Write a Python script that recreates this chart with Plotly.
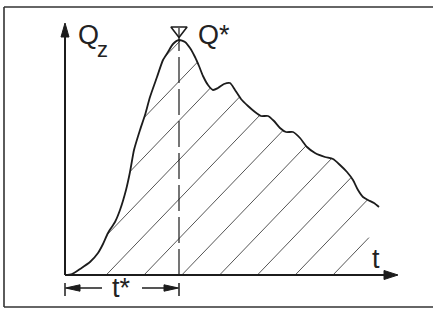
import numpy as np
import plotly.graph_objects as go

# ---- data (hydrograph sketch) ----
t_vals = [0.0, 0.7, 1.5, 2.5, 3.3, 3.8, 4.3, 5.0, 5.5, 6.1, 6.5, 6.9, 7.5, 8.0, 8.5, 9.2,
          9.8, 10.3, 10.8, 11.4, 12.0, 12.5, 13.0, 13.4, 13.8, 14.3, 14.8, 15.3, 15.9,
          16.5, 17.0, 17.6, 18.3, 19.0, 19.6, 20.3, 20.9, 21.5, 22.1, 22.8, 23.5, 24.2,
          25.0, 26.0, 26.8, 27.5, 28.2, 28.8, 29.3, 29.8, 30.3, 30.9, 31.4]
q_vals = [0.0, 0.1, 0.6, 1.3, 2.2, 3.1, 4.2, 5.3, 6.5, 8.5, 10.3, 12.5, 14.5, 16.0, 17.8, 19.8,
          21.5, 22.3, 23.1, 23.5, 23.3, 22.7, 21.8, 20.9, 19.9, 19.0, 18.5, 18.7, 19.1,
          19.2, 18.5, 17.6, 16.9, 16.3, 15.9, 15.9, 15.4, 14.7, 14.3, 14.3, 13.7, 12.8,
          12.2, 11.8, 11.6, 11.0, 10.3, 9.5, 8.5, 7.8, 7.5, 7.2, 6.8]
hatch_offsets = [-11.0 + 3.78 * k for k in range(11)]   # t-intercepts of hatch lines
hatch_slope = 1.04
hatch_tmax = 30.4
labels = {"q": "Q", "qsub": "z", "qstar": "Q*", "t": "t", "tstar": "t*"}

t_arr = np.array(t_vals)
q_arr = np.array(q_vals)
t_peak = float(t_arr[np.argmax(q_arr)])

# ---- pixel mapping helpers (x_px = 65 + 10 t, y_px = 275 - 10 Q) ----
W, H = 433, 309
X0, Y0, S = 65.0, 275.0, 10.0
xr = [(0 - X0) / S, (W - X0) / S]
yr = [(Y0 - H) / S, Y0 / S]

# ---- hatch segments by clipping against curve ----
tt = np.linspace(0, t_arr[-1], 6000)
qq = np.interp(tt, t_arr, q_arr)
hx, hy = [], []
for c in hatch_offsets:
    ql = hatch_slope * (tt - c)
    inside = (ql >= 0) & (ql <= qq) & (tt <= hatch_tmax)
    idx = np.where(inside)[0]
    if idx.size == 0:
        continue
    breaks = np.where(np.diff(idx) > 1)[0]
    starts = np.concatenate([[idx[0]], idx[breaks + 1]])
    ends = np.concatenate([idx[breaks], [idx[-1]]])
    for s, e in zip(starts, ends):
        if e - s < 2:
            continue
        hx += [tt[s], tt[e], None]
        hy += [hatch_slope * (tt[s] - c), hatch_slope * (tt[e] - c), None]

ink = "#1c1c1c"
fig = go.Figure()
fig.add_trace(go.Scatter(x=hx, y=hy, mode="lines", line=dict(color="#555555", width=1),
                         hoverinfo="skip", showlegend=False))
fig.add_trace(go.Scatter(x=t_vals, y=q_vals, mode="lines",
                         line=dict(color=ink, width=1.8, shape="spline", smoothing=0.6),
                         showlegend=False))
# dashed peak line
fig.add_trace(go.Scatter(x=[t_peak, t_peak], y=[0, max(q_vals) + 1.2], mode="lines",
                         line=dict(color=ink, width=1.2, dash="26px,6px"), showlegend=False))
fig.add_trace(go.Scatter(x=[t_peak], y=[max(q_vals) + 0.95], mode="markers",
                         marker=dict(symbol="triangle-down", size=14, color="rgba(0,0,0,0)",
                                     line=dict(color=ink, width=1.6)), showlegend=False))

shapes = []
def line(x0, y0, x1, y1, w=2, col=ink, xref="x", yref="y"):
    shapes.append(dict(type="line", x0=x0, y0=y0, x1=x1, y1=y1, xref=xref, yref=yref,
                       line=dict(color=col, width=w)))
def tri(pts):
    p = "M " + " L ".join(f"{a},{b}" for a, b in pts) + " Z"
    shapes.append(dict(type="path", path=p, xref="x", yref="y", fillcolor=ink,
                       line=dict(color=ink, width=1)))

# axes
y_top = 25.2
x_tip = 33.3
line(0, 0, 0, y_top - 1.0)
tri([(0, y_top), (-0.4, y_top - 1.4), (0.4, y_top - 1.4)])
line(0, 0, x_tip - 1.0, 0)
tri([(x_tip, 0), (x_tip - 1.4, 0.45), (x_tip - 1.4, -0.45)])

# t* dimension
ya = -1.3
line(0, -0.8, 0, -2.1, w=1.5)
line(t_peak, -0.8, t_peak, -2.1, w=1.5)
line(0.3, ya, 3.7, ya, w=1.5)
line(7.7, ya, t_peak - 0.3, ya, w=1.5)
tri([(0.05, ya), (1.5, ya + 0.32), (1.5, ya - 0.32)])
tri([(t_peak - 0.05, ya), (t_peak - 1.5, ya + 0.32), (t_peak - 1.5, ya - 0.32)])

# frame (left, top, bottom)
fx0, fy0, fy1 = 4 / W, 1 - 7 / H, 1 - 307 / H
line(fx0, fy1, fx0, fy0, w=1.6, col="#333", xref="paper", yref="paper")
line(fx0, fy0, 1.0, fy0, w=1.6, col="#333", xref="paper", yref="paper")
line(fx0, fy1, 1.0, fy1, w=1.6, col="#333", xref="paper", yref="paper")

fam = "Liberation Sans, Arial, sans-serif"
font = dict(family=fam, size=27, color="#222")
font_sub = dict(family=fam, size=22, color="#222")
ann = [
    dict(x=1.1, y=24.0, text=labels["q"], xanchor="left", yanchor="middle", font=font),
    dict(x=3.0, y=22.6, text=labels["qsub"], xanchor="left", yanchor="middle", font=font_sub),
    dict(x=t_peak + 1.7, y=24.0, text=labels["qstar"], xanchor="left", yanchor="middle", font=font),
    dict(x=30.5, y=1.6, text=labels["t"], xanchor="left", yanchor="middle", font=font),
    dict(x=5.65, y=-1.3, text=labels["tstar"], xanchor="center", yanchor="middle", font=font),
]
for a in ann:
    a.update(xref="x", yref="y", showarrow=False)

fig.update_layout(
    width=W, height=H, margin=dict(l=0, r=0, t=0, b=0),
    paper_bgcolor="white", plot_bgcolor="white",
    xaxis=dict(range=xr, visible=False, fixedrange=True),
    yaxis=dict(range=yr, visible=False, fixedrange=True),
    shapes=shapes, annotations=ann, showlegend=False,
)
fig.write_html("out.html", config={"displayModeBar": False},
               post_script="document.body.style.margin='0';document.body.style.overflow='hidden';")
